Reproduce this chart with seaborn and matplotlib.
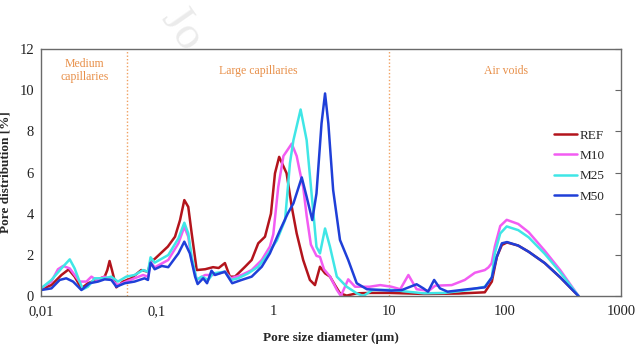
import numpy as np
import pandas as pd
import matplotlib
matplotlib.use("Agg")
import matplotlib.pyplot as plt
import seaborn as sns

# ---- data ----
ref_d = [0.0100, 0.0123, 0.0150, 0.0173, 0.0195, 0.0223, 0.0254, 0.0300, 0.0354, 0.0373,
         0.0390, 0.0409, 0.0446, 0.0509, 0.0600, 0.0731, 0.0836, 0.0880, 0.0955, 0.124,
         0.143, 0.158, 0.172, 0.186, 0.199, 0.220, 0.260, 0.304, 0.340, 0.385,
         0.425, 0.470, 0.574, 0.655, 0.746, 0.853, 0.960, 1.04, 1.13, 1.31,
         1.45, 1.60, 1.82, 2.08, 2.30, 2.54, 2.81, 3.10, 3.42, 3.78,
         4.32, 5.27, 7.0, 10, 20, 40, 67, 77, 85, 94,
         104, 130, 160, 220, 300, 430]
ref_v = [0.33, 0.53, 1.02, 1.29, 0.94, 0.37, 0.62, 0.78, 0.94, 1.26,
         1.70, 1.26, 0.42, 0.70, 0.86, 1.26, 1.18, 1.67, 1.80, 2.40,
         2.88, 3.69, 4.66, 4.33, 3.05, 1.26, 1.30, 1.40, 1.36, 1.60,
         0.94, 0.94, 1.42, 1.75, 2.56, 2.88, 4.00, 5.96, 6.76, 5.96,
         4.34, 3.04, 1.75, 0.78, 0.53, 1.42, 1.10, 0.94, 0.53, 0.13,
         0.02, 0.13, 0.15, 0.15, 0.10, 0.12, 0.18, 0.70, 1.90, 2.48,
         2.60, 2.45, 2.15, 1.60, 0.90, 0.0]

m10_d = [0.0100, 0.0123, 0.0140, 0.0155, 0.0177, 0.0195, 0.0215, 0.0246, 0.0272, 0.0300,
         0.0354, 0.0404, 0.0460, 0.0544, 0.0640, 0.0758, 0.0836, 0.0880, 0.0955, 0.125,
         0.153, 0.172, 0.186, 0.199, 0.220, 0.260, 0.304, 0.385, 0.435, 0.536,
         0.655, 0.800, 0.940, 1.006, 1.11, 1.23, 1.45, 1.60, 1.71, 1.82,
         1.95, 2.12, 2.37, 2.54, 2.75, 3.10, 3.55, 3.85, 4.45, 5.1,
         6.8, 8.4, 10.5, 12.5, 14.7, 17.3, 22, 25, 34.7, 45,
         55, 67, 72, 76.7, 81.7, 91, 103.5, 130, 160, 220,
         300, 430]
m10_v = [0.37, 0.70, 1.30, 1.46, 1.34, 1.02, 0.70, 0.70, 0.94, 0.78,
         0.94, 0.78, 0.53, 0.70, 0.86, 1.02, 0.94, 1.67, 1.39, 1.75,
         2.56, 3.36, 2.88, 1.75, 0.78, 1.02, 1.02, 1.18, 0.86, 1.02,
         1.26, 1.75, 2.40, 3.00, 5.30, 6.80, 7.40, 6.80, 6.00, 5.30,
         3.90, 2.50, 1.95, 1.90, 1.30, 0.95, 0.30, 0.0, 0.81, 0.45,
         0.45, 0.53, 0.45, 0.33, 1.02, 0.33, 0.25, 0.50, 0.53, 0.78,
         1.13, 1.26, 1.39, 1.59, 2.40, 3.40, 3.70, 3.50, 3.10, 2.20,
         1.25, 0.0]

m25_d = [0.0100, 0.0123, 0.0150, 0.0177, 0.0195, 0.0215, 0.0230, 0.0254, 0.0290, 0.0354,
         0.0404, 0.0460, 0.0544, 0.0640, 0.0758, 0.0836, 0.0880, 0.0955, 0.125, 0.153,
         0.172, 0.186, 0.199, 0.220, 0.242, 0.277, 0.304, 0.385, 0.435, 0.500,
         0.610, 0.746, 0.910, 1.08, 1.27, 1.40, 1.50, 1.73, 1.95, 2.15,
         2.37, 2.54, 2.81, 3.10, 3.55, 4.32, 5.27, 6.0, 7.2, 10.5,
         15, 20, 30, 48, 67, 77, 81.7, 91, 103.5, 130,
         160, 220, 300, 430]
m25_v = [0.37, 0.78, 1.34, 1.78, 1.34, 0.70, 0.33, 0.45, 0.86, 0.86,
         0.94, 0.70, 0.94, 1.02, 1.26, 1.18, 1.88, 1.62, 1.99, 2.80,
         3.56, 3.04, 1.90, 0.78, 0.94, 0.78, 1.10, 1.18, 0.78, 0.86,
         1.10, 1.42, 2.07, 2.70, 3.69, 6.45, 7.57, 9.06, 7.57, 4.98,
         2.39, 2.07, 3.28, 2.39, 0.94, 0.45, 0.13, 0.0, 0.29, 0.30,
         0.20, 0.13, 0.15, 0.29, 0.45, 0.90, 2.08, 3.04, 3.38, 3.20,
         2.85, 2.05, 1.15, 0.0]

m50_d = [0.0100, 0.0123, 0.0145, 0.0165, 0.0189, 0.0223, 0.0263, 0.0310, 0.0354, 0.0404,
         0.0446, 0.0527, 0.0640, 0.0780, 0.0836, 0.0880, 0.0955, 0.110, 0.125, 0.153,
         0.172, 0.192, 0.213, 0.224, 0.250, 0.270, 0.295, 0.316, 0.385, 0.445,
         0.536, 0.655, 0.800, 0.940, 1.15, 1.34, 1.50, 1.77, 1.95, 2.18,
         2.37, 2.62, 2.81, 3.00, 3.30, 3.78, 4.45, 5.27, 6.45, 10.5,
         12.9, 17.3, 19.8, 21.7, 24.5, 27.5, 32, 48, 67, 77,
         85, 94, 104, 130, 160, 220, 300, 430]
m50_v = [0.29, 0.37, 0.78, 0.86, 0.70, 0.29, 0.62, 0.70, 0.81, 0.78,
         0.45, 0.62, 0.70, 0.86, 0.78, 1.62, 1.30, 1.46, 1.40, 2.07,
         2.64, 2.07, 0.94, 0.58, 0.86, 0.62, 1.23, 1.02, 1.18, 0.62,
         0.78, 0.94, 1.42, 2.07, 3.20, 4.01, 4.50, 5.76, 4.82, 3.69,
         4.98, 8.38, 9.84, 8.38, 5.15, 2.72, 1.75, 0.62, 0.33, 0.26,
         0.29, 0.57, 0.37, 0.21, 0.78, 0.37, 0.21, 0.33, 0.42, 0.90,
         1.90, 2.56, 2.62, 2.45, 2.15, 1.60, 0.90, 0.0]

samples = ["REF", "M10", "M25", "M50"]
colors = ["#B3141C", "#F25CF2", "#3FE6E6", "#1F3FD8"]
x_ticks = [0.01, 0.1, 1, 10, 100, 1000]
x_labels = ["0,01", "0,1", "1", "10", "100", "1000"]
y_ticks = [0, 2, 4, 6, 8, 10, 12]
zones = ["Medium\ncapillaries", "Large capillaries", "Air voids"]
zone_pos = [0.0239, 0.74, 102]
zone_bounds = [0.055, 10]

frames = []
for name, d, v in zip(samples, [ref_d, m10_d, m25_d, m50_d], [ref_v, m10_v, m25_v, m50_v]):
    frames.append(pd.DataFrame({"d": d, "v": v, "sample": name}))
df = pd.concat(frames, ignore_index=True)

# ---- style ----
sns.set_style("white")
plt.rcParams['font.family'] = ['Liberation Serif', 'DejaVu Serif']

fig = plt.figure(figsize=(6.4, 3.45), dpi=100)
ax = fig.add_axes([41 / 640, 1 - 296 / 345, 580 / 640, 247 / 345])

sns.lineplot(data=df, x="d", y="v", hue="sample", hue_order=samples,
             palette=colors, estimator=None, linewidth=1.8, ax=ax)

ax.set_xscale("log")
ax.set_xlim(0.01, 1000)
ax.set_ylim(0, 12)
ax.set_xticks(x_ticks)
ax.set_xticklabels(x_labels)
ax.minorticks_off()
ax.set_yticks(y_ticks)
ax.tick_params(axis="both", labelsize=10.5, labelcolor="#222222", length=3, width=0.8,
               color="#666666")
ax.tick_params(axis="y", left=False, right=True, direction="in", length=4, pad=5)

for s in ax.spines.values():
    s.set_color("#6a6a6a")
    s.set_linewidth(1.0)

# zone separators and labels
for b in zone_bounds:
    ax.axvline(b, color="#F0A060", linestyle=(0, (1, 1.5)), linewidth=1.0, zorder=1)
for txt, xp in zip(zones, zone_pos):
    ax.text(xp, 10.95, txt, color="#E8904A", fontsize=8.5, ha="center", va="center",
            linespacing=1.15)

ax.set_xlabel("Pore size diameter (µm)", fontsize=9.5, fontweight="bold", labelpad=10)
ax.set_ylabel("Pore distribution [%]", fontsize=9.5, fontweight="bold", labelpad=6)

handles, labels = ax.get_legend_handles_labels()
ax.legend(handles, labels, loc="upper left", bbox_to_anchor=(0.885, 0.675),
          frameon=False, fontsize=9.5, handlelength=1.7, handletextpad=0.25,
          labelspacing=0.62, borderpad=0, borderaxespad=0)

# faint watermark at the top
fig.text(0.283, 0.915, "Jo", fontsize=34, color="#ebebeb", rotation=-55,
         ha="center", va="center", zorder=10)

fig.savefig("out.png", dpi=100)
